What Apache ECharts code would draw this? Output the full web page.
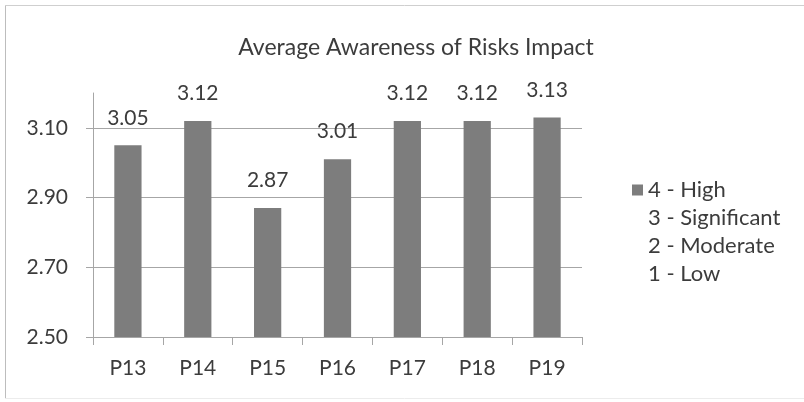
<!DOCTYPE html>
<html>
<head>
<meta charset="utf-8">
<script src="https://cdn.jsdelivr.net/npm/echarts@6/dist/echarts.min.js"></script>
<style>
  html, body { margin: 0; padding: 0; background: #ffffff; }
  #chart { width: 804px; height: 402px; }
</style>
</head>
<body>
<div id="chart"></div>
<script>
// Chart data
var categories = ['P13', 'P14', 'P15', 'P16', 'P17', 'P18', 'P19'];
var highValues = [3.05, 3.12, 2.87, 3.01, 3.12, 3.12, 3.13];
var legendNames = ['4 - High', '3 - Significant', '2 - Moderate', '1 - Low'];
var yTicks = [2.5, 2.7, 2.9, 3.1];
var yMin = 2.5;
var yMax = 3.2;

var FONT = 'Lato';
var TEXT = '#3c3c3c';
var GRID = '#a6a6a6';
var BAR = '#7d7d7d';

var chart = echarts.init(document.getElementById('chart'), null, { renderer: 'canvas' });

// One series carries the bars; the other legend entries are text-only rows
// that overlap it (barGap -100%) so they take no room on the axis.
var series = legendNames.map(function (name, i) {
  var s = {
    name: name,
    type: 'bar',
    data: i === 0 ? highValues : [],
    barWidth: '39%',
    barGap: '-100%',
    itemStyle: { color: BAR },
    label: {
      show: true,
      position: 'top',
      distance: 17,
      fontFamily: FONT,
      fontSize: 21,
      color: TEXT,
      formatter: function (p) { return p.value.toFixed(2); }
    }
  };
  if (i === 0) {
    s.markLine = {
      silent: true,
      symbol: 'none',
      label: { show: false },
      lineStyle: { color: GRID, width: 1, type: 'solid' },
      z: 1,
      data: yTicks.slice(1).map(function (v) { return { yAxis: v }; })
    };
  }
  return s;
});

var option = {
  animation: false,
  backgroundColor: '#ffffff',
  title: {
    text: 'Average Awareness of Risks Impact',
    left: 411,
    top: 31,
    textAlign: 'center',
    textStyle: { fontFamily: FONT, fontWeight: 'normal', fontSize: 23, color: TEXT }
  },
  legend: {
    orient: 'vertical',
    left: 627,
    top: 174,
    itemWidth: 11,
    itemHeight: 11,
    itemGap: 6,
    selectedMode: false,
    textStyle: { fontFamily: FONT, fontSize: 22, color: TEXT, lineHeight: 22 },
    data: legendNames.map(function (n, i) {
      return i === 0
        ? { name: n, icon: 'rect' }
        : { name: n, icon: 'rect', itemStyle: { color: 'rgba(0,0,0,0)', opacity: 0 } };
    })
  },
  grid: { left: 93, right: 222, top: 93, bottom: 65, containLabel: false },
  xAxis: {
    type: 'category',
    data: categories,
    axisLine: { show: true, lineStyle: { color: GRID, width: 1 } },
    axisTick: { show: true, length: 8, alignWithLabel: false, lineStyle: { color: GRID } },
    axisLabel: { fontFamily: FONT, fontSize: 21, color: TEXT, margin: 21 },
    splitLine: { show: false }
  },
  yAxis: {
    type: 'value',
    min: yMin,
    max: yMax,
    interval: 0.1,
    axisLine: { show: true, lineStyle: { color: GRID, width: 1 } },
    axisTick: { show: true, length: 7, customValues: yTicks, lineStyle: { color: GRID } },
    axisLabel: {
      fontFamily: FONT, fontSize: 21, color: TEXT, margin: 25,
      customValues: yTicks,
      formatter: function (v) { return v.toFixed(2); }
    },
    splitLine: { show: false }
  },
  graphic: [
    { type: 'line', shape: { x1: 5.5, y1: 5, x2: 5.5, y2: 398 }, style: { stroke: '#bdbdbd', lineWidth: 1 } },
    { type: 'line', shape: { x1: 5, y1: 5.5, x2: 804, y2: 5.5 }, style: { stroke: '#cfcfcf', lineWidth: 1 } },
    { type: 'line', shape: { x1: 5, y1: 398.5, x2: 804, y2: 398.5 }, style: { stroke: '#ececec', lineWidth: 1 } }
  ],
  series: series
};

chart.setOption(option);
</script>
</body>
</html>
